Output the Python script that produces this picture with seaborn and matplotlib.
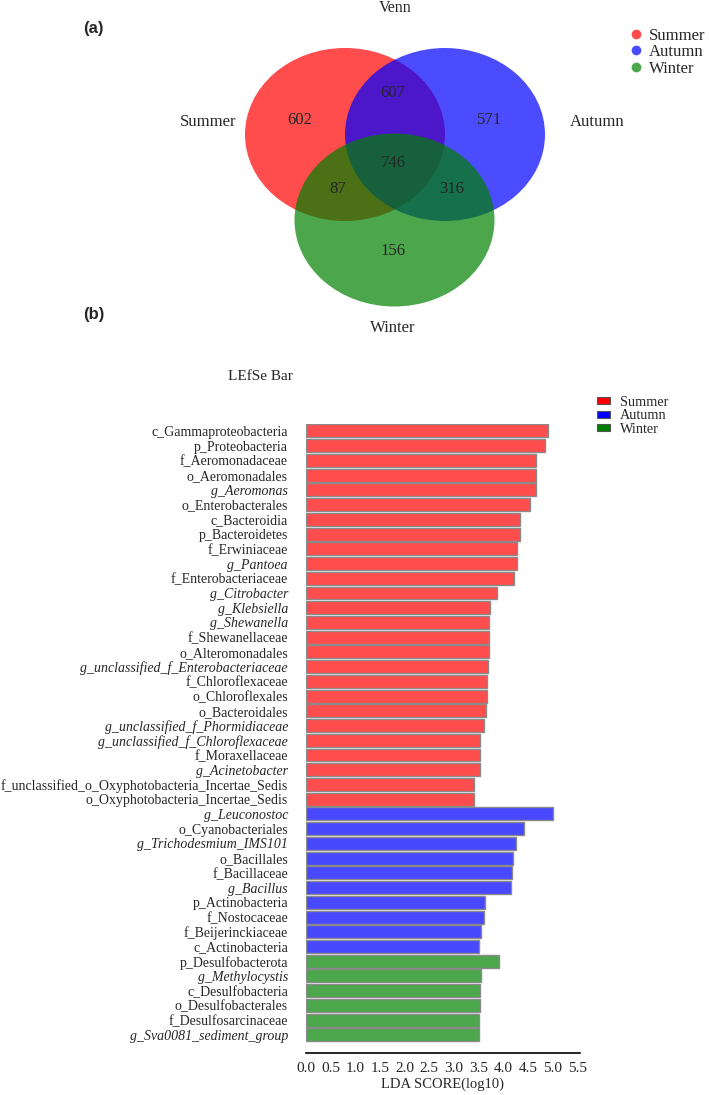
import numpy as np
import pandas as pd
import matplotlib
matplotlib.use("Agg")
import matplotlib.pyplot as plt
import seaborn as sns
from matplotlib.patches import Ellipse, Patch
from matplotlib.lines import Line2D

# --- data ---
seasons = ["Summer", "Autumn", "Winter"]

# Venn region counts: S only, S&A, A only, all three, S&W, A&W, W only
venn_regions = ["S", "SA", "A", "SAW", "SW", "AW", "W"]
venn_counts = [602, 607, 571, 746, 87, 316, 156]

summer_taxa = [
    "c_Gammaproteobacteria", "p_Proteobacteria", "f_Aeromonadaceae", "o_Aeromonadales",
    "g_Aeromonas", "o_Enterobacterales", "c_Bacteroidia", "p_Bacteroidetes",
    "f_Erwiniaceae", "g_Pantoea", "f_Enterobacteriaceae", "g_Citrobacter",
    "g_Klebsiella", "g_Shewanella", "f_Shewanellaceae", "o_Alteromonadales",
    "g_unclassified_f_Enterobacteriaceae", "f_Chloroflexaceae", "o_Chloroflexales",
    "o_Bacteroidales", "g_unclassified_f_Phormidiaceae", "g_unclassified_f_Chloroflexaceae",
    "f_Moraxellaceae", "g_Acinetobacter", "f_unclassified_o_Oxyphotobacteria_Incertae_Sedis",
    "o_Oxyphotobacteria_Incertae_Sedis",
]
summer_lda = [4.90, 4.84, 4.66, 4.66, 4.66, 4.54, 4.35, 4.35, 4.28, 4.28, 4.22, 3.87, 3.73,
              3.71, 3.71, 3.71, 3.70, 3.68, 3.68, 3.65, 3.61, 3.53, 3.52, 3.52, 3.41, 3.41]

autumn_taxa = [
    "g_Leuconostoc", "o_Cyanobacteriales", "g_Trichodesmium_IMS101", "o_Bacillales",
    "f_Bacillaceae", "g_Bacillus", "p_Actinobacteria", "f_Nostocaceae",
    "f_Beijerinckiaceae", "c_Actinobacteria",
]
autumn_lda = [5.01, 4.42, 4.27, 4.19, 4.18, 4.16, 3.63, 3.62, 3.56, 3.51]

winter_taxa = [
    "p_Desulfobacterota", "g_Methylocystis", "c_Desulfobacteria", "o_Desulfobacterales",
    "f_Desulfosarcinaceae", "g_Sva0081_sediment_group",
]
winter_lda = [3.91, 3.56, 3.53, 3.52, 3.51, 3.50]

df = pd.DataFrame({
    "taxon": summer_taxa + autumn_taxa + winter_taxa,
    "lda": summer_lda + autumn_lda + winter_lda,
    "season": ["Summer"] * len(summer_taxa) + ["Autumn"] * len(autumn_taxa)
              + ["Winter"] * len(winter_taxa),
})

venn_colors = {"Summer": (1, 0, 0), "Autumn": (0, 0, 1), "Winter": (0, 0.5, 0)}
bar_colors = {"Summer": "#FF4D4D", "Autumn": "#4848FF", "Winter": "#4CA64C"}
legend_colors = {"Summer": "#FF0000", "Autumn": "#0000FF", "Winter": "#008000"}

W, H = 709, 1095
sns.set_style("white")
plt.rcParams["font.family"] = ["Liberation Serif", "DejaVu Serif"]

fig = plt.figure(figsize=(W / 100, H / 100), dpi=100)

# overlay in pixel coordinates for the Venn panel and labels
ov = fig.add_axes([0, 0, 1, 1])
ov.set_xlim(0, W)
ov.set_ylim(H, 0)
ov.axis("off")

# --- (a) Venn ---
centers = {"Summer": (345, 134.5), "Autumn": (445, 134.5), "Winter": (394.5, 220)}
for s in seasons:
    ov.add_patch(Ellipse(centers[s], 200, 173, facecolor=venn_colors[s],
                         alpha=0.7, edgecolor="none"))

count_pos = {"S": (300, 120), "SA": (393, 93), "A": (490, 120), "SAW": (393, 163),
             "SW": (338, 189), "AW": (452, 189), "W": (393, 251)}
for r, c in zip(venn_regions, venn_counts):
    ov.text(*count_pos[r], str(c), ha="center", va="center", fontsize=12)

ov.text(208, 122, "Summer", ha="center", va="center", fontsize=12)
ov.text(597, 122, "Autumn", ha="center", va="center", fontsize=12)
ov.text(393, 328, "Winter", ha="center", va="center", fontsize=12)
ov.text(395, 8, "Venn", ha="center", va="center", fontsize=11.5)
ov.text(83, 28, "(a)", ha="left", va="center", fontsize=12, fontweight="bold",
        family="Liberation Sans")
ov.text(83, 315, "(b)", ha="left", va="center", fontsize=12, fontweight="bold",
        family="Liberation Sans")
ov.text(228, 377, "LEfSe Bar", ha="left", va="center", fontsize=11)

venn_handles = [Line2D([], [], marker="o", ls="none", markersize=7,
                       markerfacecolor=venn_colors[s], markeredgecolor="none", alpha=0.7)
                for s in seasons]
ov.legend(venn_handles, seasons, loc="upper left", bbox_to_anchor=(628 / W, 1 - 28 / H),
          frameon=False, fontsize=12, handlelength=0.9, handletextpad=0.35,
          labelspacing=0.02, borderpad=0, borderaxespad=0)

# --- (b) LEfSe bar ---
ax = fig.add_axes([306 / W, 42 / H, 273.6 / W, 629.4 / H])
ax.patch.set_alpha(0)
sns.barplot(data=df, x="lda", y="taxon", hue="season", palette=bar_colors,
            dodge=False, saturation=1, width=0.88, edgecolor="#8a8a8a",
            linewidth=1, legend=False, ax=ax)
ax.set_xlim(0, 5.55)
ax.set_ylim(len(df) - 1 + 1.23, -0.5)
ax.set_xticks(np.arange(0, 5.51, 0.5))
ax.set_xticklabels([f"{v:.1f}" for v in np.arange(0, 5.51, 0.5)], fontsize=11)
ax.tick_params(axis="x", direction="out", length=5, width=1, color="black", pad=1.5)
ax.tick_params(axis="y", length=0, pad=13, labelsize=10)
for lab in ax.get_yticklabels():
    if lab.get_text().startswith("g_"):
        lab.set_fontstyle("italic")
ax.set_ylabel("")
ax.set_xlabel("LDA SCORE(log10)", fontsize=10.5, labelpad=2)
sns.despine(ax=ax, left=True)
ax.spines["bottom"].set_color("black")
ax.spines["bottom"].set_linewidth(1.2)

bar_handles = [Patch(facecolor=legend_colors[s], edgecolor="#555555", linewidth=0.8)
               for s in seasons]
ax.legend(bar_handles, seasons, loc="upper left", bbox_to_anchor=(597 / W, 1 - 396 / H),
          bbox_transform=fig.transFigure, frameon=False, fontsize=10.3,
          handlelength=0.9, handleheight=0.4, handletextpad=0.7,
          labelspacing=0.02, borderpad=0, borderaxespad=0)

fig.savefig("out.png", dpi=100)
